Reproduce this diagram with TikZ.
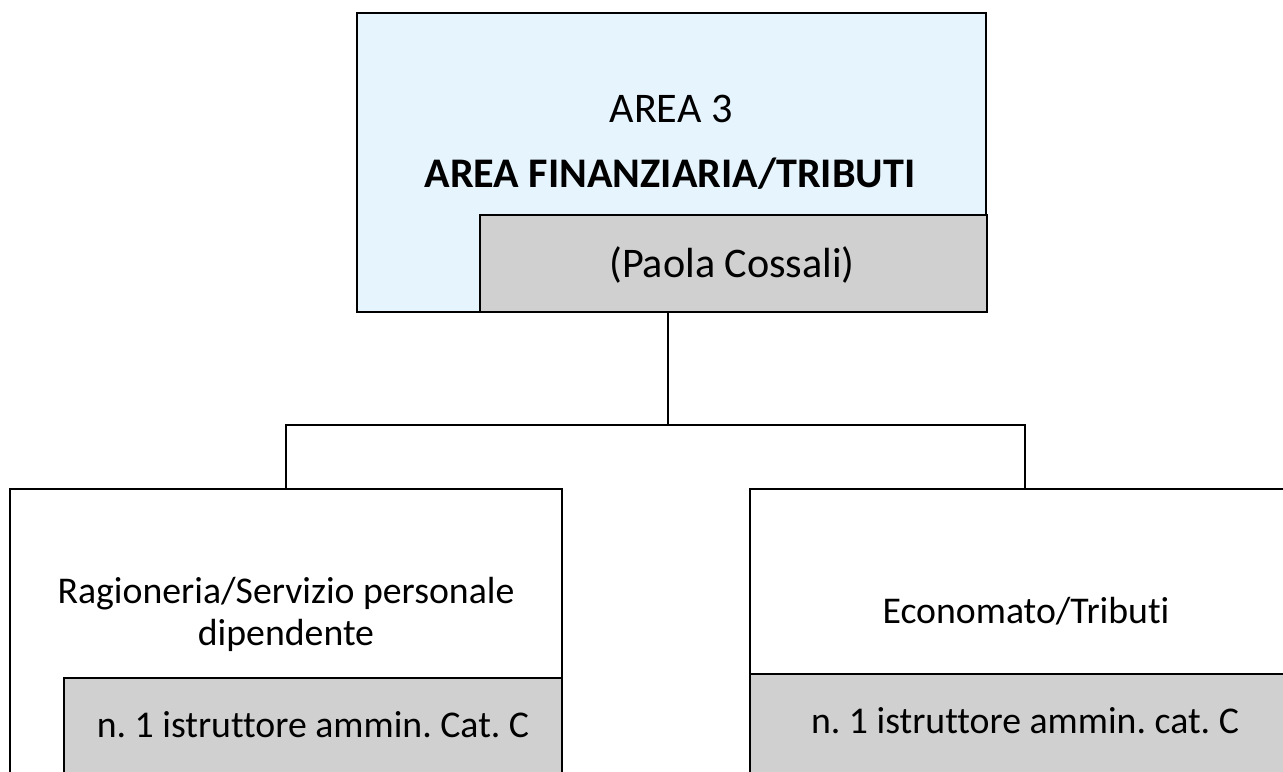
\documentclass[tikz,border=0pt]{standalone}
\usepackage{fontspec}
\setmainfont[Ligatures=NoCommon]{Carlito}
\frenchspacing

\definecolor{areablue}{RGB}{230,244,254}
\definecolor{staffgray}{RGB}{208,208,209}

\tikzset{
  box/.style={draw=black, line width=1.3pt, inner sep=0pt, rectangle},
  toptext/.style={font=\fontsize{24}{27}\selectfont, inner sep=0pt},
  boxtext/.style={font=\fontsize{21.5}{24}\selectfont, align=center, inner sep=0pt},
  link/.style={line width=1pt},
}

\begin{document}
\begin{tikzpicture}[x=0.02cm,y=-0.02cm]

\path[use as bounding box, clip] (0,0) rectangle (1283,771);

% Draw the area box
\node[box, fill=areablue, minimum width=12.58cm, minimum height=5.98cm] (area) at (671.5,162.5) {};
\node[box, fill=staffgray, minimum width=10.14cm, minimum height=1.94cm] (head) at (733.5,263.5) {};
\node[toptext, anchor=base] (areanum) at (671,122) {AREA 3};
\node[toptext, font=\fontsize{24}{27}\selectfont\bfseries, anchor=base] (areaname) at (670,187) {AREA FINANZIARIA/TRIBUTI};
\node[toptext, anchor=base] (headname) at (732,277) {(Paola Cossali)};

% Draw the office boxes
\node[box, fill=white, minimum width=11.04cm, minimum height=6.22cm] (ragioneria) at (286,644.5) {};
\node[box, fill=staffgray, minimum width=9.96cm, minimum height=2.44cm] (ragstaff) at (313,739) {};
\node[box, fill=white, minimum width=11cm, minimum height=6.22cm] (economato) at (1025,644.5) {};
\node[box, fill=staffgray, minimum width=11cm, minimum height=2.52cm] (ecostaff) at (1025,737) {};

\node[boxtext] (ragname) at (286,614) {Ragioneria/Servizio personale\\dipendente};
\node[boxtext, anchor=base] (ragcat) at (313,737) {n. 1 istruttore ammin. Cat. C};
\node[boxtext, anchor=base] (econame) at (1026,623) {Economato/Tributi};
\node[boxtext, anchor=base] (ecocat) at (1025,733) {n. 1 istruttore ammin. cat. C};

% Draw the edges
\coordinate (bus) at (668,425);
\draw[link] (area.south -| bus) -- (bus);
\draw[link] (ragioneria.north) |- (bus) -| (economato.north);

\end{tikzpicture}
\end{document}
